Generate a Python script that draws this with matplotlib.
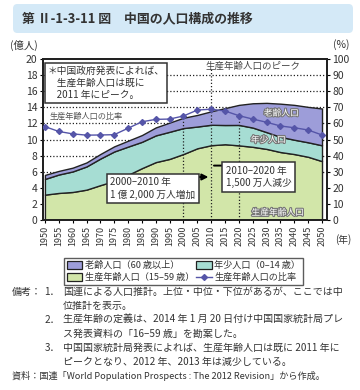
import matplotlib
matplotlib.use("Agg")
import matplotlib.pyplot as plt
import matplotlib.patheffects as pe
from matplotlib.patches import FancyBboxPatch, Patch
from matplotlib.lines import Line2D
import numpy as np

plt.rcParams['font.family'] = ['Noto Sans CJK JP', 'DejaVu Sans']

years = [1950, 1955, 1960, 1965, 1970, 1975, 1980, 1985, 1990, 1995, 2000,
         2005, 2010, 2015, 2020, 2025, 2030, 2035, 2040, 2045, 2050]
working = [3.15, 3.36, 3.48, 3.77, 4.33, 4.85, 5.61, 6.44, 7.19, 7.59, 8.20,
           8.91, 9.29, 9.41, 9.27, 9.09, 8.83, 8.44, 8.19, 7.85, 7.31]
youth = [1.95, 2.29, 2.55, 2.88, 3.30, 3.66, 3.51, 3.27, 3.32, 3.37, 3.22,
         2.70, 2.54, 2.39, 2.54, 2.39, 2.08, 1.89, 1.78, 1.80, 1.97]
elderly = [0.50, 0.45, 0.47, 0.50, 0.57, 0.64, 0.73, 0.84, 0.99, 1.14, 1.28,
           1.44, 1.67, 2.10, 2.49, 3.02, 3.64, 4.12, 4.33, 4.40, 4.57]
ratio = [58, 55, 53.5, 52.7, 52.8, 53, 57, 61, 62.5, 62.7, 64.6,
         68.3, 68.8, 67.7, 64.8, 62.7, 60.7, 58.4, 57.3, 55.9, 52.8]

left_ticks = list(range(0, 21, 2))
right_ticks = list(range(0, 101, 10))
year_ticks = list(range(1950, 2051, 5))

c_old = '#9d9dd9'
c_young = '#a6ddd3'
c_work = '#d2e6a9'
c_line = '#5555a8'

fig = plt.figure(figsize=(3.6, 3.9), dpi=100)

# title banner
fig.patches.append(FancyBboxPatch((13/360, 1-33/390), 340/360, 29/390,
                                  boxstyle='round,pad=0,rounding_size=0.012',
                                  transform=fig.transFigure, fc='#d4e9f7', ec='none'))
fig.text(22/360, 1-18/390, '第 Ⅱ-1-3-11 図　中国の人口構成の推移', fontsize=9.3,
         color='#333333', va='center', ha='left', fontweight='bold')

ax = fig.add_axes([43/360, 1-220/390, (327-43)/360, (220-59)/390])
ax.set_xlim(1949.3, 2051.8)
ax.set_ylim(0, 20)

for y in range(6, 20, 2):
    ax.axhline(y, color='#222222', lw=0.9, ls=(0, (1, 1.6)), zorder=1)

ax.stackplot(years, working, youth, elderly, colors=[c_work, c_young, c_old],
             edgecolor='#222222', linewidth=1.0, zorder=2)

# vertical dotted lines
ax.plot([2000, 2000], [0, ratio[10] / 5], color='#222222', lw=0.9, ls=(0, (1, 1.6)), zorder=3)
ax.plot([2010, 2010], [0, 18.9], color='#222222', lw=0.9, ls=(0, (1, 1.6)), zorder=3)
ax.plot([2020, 2020], [0, ratio[14] / 5], color='#222222', lw=0.9, ls=(0, (1, 1.6)), zorder=3)

ax.set_yticks(left_ticks)
ax.set_yticklabels([str(v) for v in left_ticks], fontsize=7.5, color='#333333')
ax.set_xticks(year_ticks)
ax.set_xticklabels([str(v) for v in year_ticks], rotation=90, fontsize=6.5, color='#333333')
ax.tick_params(axis='both', length=2.5, width=0.8, pad=1.5)
for s in ax.spines.values():
    s.set_linewidth(1.4)
    s.set_color('#222222')

ax2 = ax.twinx()
ax2.set_ylim(0, 100)
ax2.set_yticks(right_ticks)
ax2.set_yticklabels([str(v) for v in right_ticks], fontsize=7.5, color='#333333')
ax2.tick_params(axis='y', length=2.5, width=0.8, pad=1.5)
for s in ax2.spines.values():
    s.set_linewidth(1.4)
    s.set_color('#222222')
ax2.plot(years, ratio, color=c_line, lw=1.0, marker='D', markersize=3.0,
         markerfacecolor=c_line, markeredgecolor=c_line, zorder=5)

ax2.text(1950.9, 95.5, '＊中国政府発表によれば、\n　生産年齢人口は既に\n　2011 年にピーク。',
         fontsize=7, color='#333333', va='top', ha='left', linespacing=1.25,
         bbox=dict(boxstyle='square,pad=0.3', fc='white', ec='#333333', lw=1.1), zorder=6)
ax2.text(2025, 95.3, '生産年齢人口のピーク', fontsize=6.8, color='#444444',
         ha='center', va='center', zorder=6)
ax2.text(1951.5, 64.5, '生産年齢人口の比率', fontsize=5.9, color='#555555',
         ha='left', va='center', zorder=6)

ax2.annotate('', xy=(2010, 26.7), xytext=(2000, 26.7),
             arrowprops=dict(arrowstyle='-|>', color='black', lw=1.4, mutation_scale=9), zorder=6)
ax2.annotate('', xy=(2020, 33.8), xytext=(2010, 33.8),
             arrowprops=dict(arrowstyle='-|>', color='black', lw=1.4, mutation_scale=9), zorder=6)
ax2.text(1973.6, 19.5, '2000–2010 年\n1 億 2,000 万人増加', fontsize=7, color='#333333',
         ha='left', va='center', linespacing=1.3,
         bbox=dict(boxstyle='square,pad=0.35', fc='white', ec='#333333', lw=1.1), zorder=6)
ax2.text(2015.2, 26.8, '2010–2020 年\n1,500 万人減少', fontsize=7, color='#333333',
         ha='left', va='center', linespacing=1.3,
         bbox=dict(boxstyle='square,pad=0.35', fc='white', ec='#333333', lw=1.1), zorder=6)

stroke = [pe.withStroke(linewidth=1.6, foreground='#777777')]
ax2.text(2035.3, 66.3, '老齢人口', fontsize=6.3, color='white', ha='center', va='center',
         path_effects=stroke, zorder=6)
ax2.text(2030.6, 49.7, '年少人口', fontsize=6.3, color='white', ha='center', va='center',
         path_effects=stroke, zorder=6)
ax2.text(2034, 4.5, '生産年齢人口', fontsize=6.3, color='white', ha='center', va='center',
         path_effects=stroke, zorder=6)

fig.text(10/360, 1-45/390, '(億人)', fontsize=7.5, color='#333333', ha='left', va='center')
fig.text(350/360, 1-45/390, '(%)', fontsize=7.5, color='#333333', ha='right', va='center')
fig.text(335/360, 1-240/390, '(年)', fontsize=7, color='#333333', ha='left', va='center')

handles = [Patch(fc=c_old, ec='#222222', lw=0.9),
           Patch(fc=c_work, ec='#222222', lw=0.9),
           Patch(fc=c_young, ec='#222222', lw=0.9),
           Line2D([], [], color=c_line, marker='D', markersize=3.0, lw=1.0)]
labels = ['老齢人口（60 歳以上）', '生産年齢人口（15–59 歳）', '年少人口（0–14 歳）', '生産年齢人口の比率']
leg = fig.legend(handles, labels, ncol=2, loc='center', bbox_to_anchor=(183.5/360, 1-271.5/390),
                 fontsize=6.6, frameon=True, fancybox=False, edgecolor='#333333',
                 handlelength=1.7, handleheight=0.9, handletextpad=0.3, columnspacing=0.2,
                 labelspacing=0.3, borderpad=0.3, borderaxespad=0)
leg.get_frame().set_linewidth(1.0)
for t in leg.get_texts():
    t.set_color('#333333')

note_fs = 7.2
nc = '#333333'
ys = [292, 306, 320, 334, 348, 362, 376]
fig.text(12/360, 1-ys[0]/390, '備考：', fontsize=note_fs, color=nc, va='center')
fig.text(44/360, 1-ys[0]/390, '1．', fontsize=note_fs, color=nc, va='center')
fig.text(63/360, 1-ys[0]/390, '国連による人口推計。上位・中位・下位があるが、ここでは中', fontsize=note_fs, color=nc, va='center')
fig.text(63/360, 1-ys[1]/390, '位推計を表示。', fontsize=note_fs, color=nc, va='center')
fig.text(45/360, 1-ys[2]/390, '2．', fontsize=note_fs, color=nc, va='center')
fig.text(63/360, 1-ys[2]/390, '生産年齢の定義は、2014 年 1 月 20 日付け中国国家統計局プレ', fontsize=note_fs, color=nc, va='center')
fig.text(63/360, 1-ys[3]/390, 'ス発表資料の「16–59 歳」を勘案した。', fontsize=note_fs, color=nc, va='center')
fig.text(45/360, 1-ys[4]/390, '3．', fontsize=note_fs, color=nc, va='center')
fig.text(63/360, 1-ys[4]/390, '中国国家統計局発表によれば、生産年齢人口は既に 2011 年に', fontsize=note_fs, color=nc, va='center')
fig.text(63/360, 1-ys[5]/390, 'ピークとなり、2012 年、2013 年は減少している。', fontsize=note_fs, color=nc, va='center')
fig.text(12/360, 1-ys[6]/390, '資料：国連「World Population Prospects : The 2012 Revision」から作成。',
         fontsize=6.6, color=nc, va='center')

fig.savefig('out.png', dpi=100)
